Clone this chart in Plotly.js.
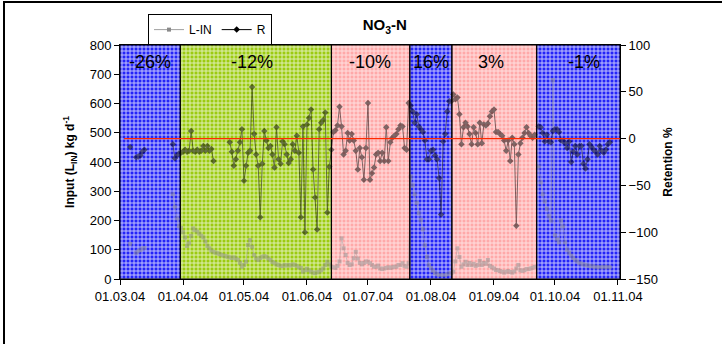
<!DOCTYPE html>
<html><head><meta charset="utf-8">
<script src="https://cdn.plot.ly/plotly-3.0.1.min.js"></script>
<style>
html,body{margin:0;padding:0;background:#fff;}
#wrap{position:relative;width:722px;height:344px;overflow:hidden;}
#chart{width:722px;height:344px;}
#frame{position:absolute;left:3px;top:1px;right:-5px;bottom:-5px;border-top:2px solid #000;border-left:2px solid #000;pointer-events:none;}
</style></head><body>
<div id="wrap"><div id="chart"></div><div id="frame"></div></div>
<script>
// daily values from 01.03.2004, one array per month (null = no measurement)
const rMar = [null,null,null,null,null,-9,null,null,-20,-19,-18,-14,-12,null,null,null,null,null,null,null,null,null,null,null,null,null,-6,-21,-18,-16,-15];
const rApr = [-14,-12,-14,-13,8,-13,-14,-12,-14,-13,-8,-13,-8,-13,-11,-24,null,null,null,null,null,null,null,-4,-14,-29,-22,-13,-4,10];
const rMay = [-45,-29,-15,-13,55,5,-17,-29,-84,-27,8,-2,-10,-8,-17,-31,12,-22,-27,-3,-6,-17,-26,-22,-6,-13,3,-15,-84,13,-100];
const rJun = [15,22,31,-33,-63,-97,10,17,20,28,-79,-30,-12,7,9,14,34,13,-17,-13,6,-2,5,-2,-13,-33,-10,-20,-44,-10];
const rJul = [38,-44,-37,-31,-17,-15,-24,-15,-24,12,-24,-4,1,3,5,10,14,13,-10,-12,38,35,29,17,26,13,10,7,-2,-22,-22];
const rAug = [-13,-12,-18,-22,-42,-81,-3,5,29,40,40,47,42,44,26,-6,12,17,13,5,-6,12,6,-6,17,-5,15,14,16,24,29];
const rSep = [31,7,7,5,3,-2,-13,-2,-24,1,-6,-93,-17,-5,1,6,12,6,3,1,4,null,13,12,6,-3,4,-3,-4,8];
const rOct = [10,10,7,-2,-2,-5,-10,-3,-25,-14,-8,-17,-8,-8,-27,-32,-22,-6,-9,-12,-14,-17,-8,-13,-15,-12,-6,-4,null,null,null];

const lMar = [null,null,null,null,null,120,null,null,90,95,99,104,106,null,null,null,null,null,null,null,null,null,null,null,null,null,290,247,207,181,175];
const lApr = [160,142,113,122,147,173,167,162,155,148,142,128,113,105,97,93,90,88,85,82,80,78,76,74,72,74,70,66,55,42];
const lMay = [48,59,116,133,110,82,70,65,72,76,78,76,70,65,58,55,50,48,45,44,48,46,48,46,50,48,45,40,38,25,30];
const lJun = [35,30,25,22,20,23,25,30,36,48,59,50,42,40,38,45,60,139,105,82,55,48,50,71,93,70,55,50,55,60];
const lJul = [59,54,48,42,42,46,36,34,36,38,40,38,40,42,42,48,48,54,45,42,54,350,320,290,260,225,202,170,115,75,48];
const lAug = [38,28,20,16,14,14,14,14,16,19,20,25,60,105,75,42,50,59,48,55,48,52,45,48,62,48,55,52,65,45,40];
const lSep = [36,31,30,27,25,22,25,27,24,22,26,36,48,30,28,30,34,34,36,38,42,null,385,330,290,265,240,215,200,680];
const lOct = [150,135,125,200,180,125,100,90,80,72,65,60,55,52,50,48,46,45,44,42,42,40,41,40,42,40,42,40,null,null,null];

// retention periods
const bandEdges = ['2004-03-01','2004-03-30 16:00','2004-06-13','2004-07-21 14:00','2004-08-11 07:00','2004-09-22','2004-11-02'];
const bandLabels = ['-26%','-12%','-10%','16%','3%','-1%'];
const bandLabelDates = ['2004-03-15 18:00','2004-05-05','2004-07-02','2004-08-01','2004-08-30 12:00','2004-10-15 12:00'];
const bandKinds = ['blue','green','pink','blue','pink','blue'];
const tickDates = ['2004-03-01','2004-04-01','2004-05-01','2004-06-01','2004-07-01','2004-08-01','2004-09-01','2004-10-01','2004-11-01'];

const R = [].concat(rMar,rApr,rMay,rJun,rJul,rAug,rSep,rOct);
const LIN = [].concat(lMar,lApr,lMay,lJun,lJul,lAug,lSep,lOct);
const t0 = Date.UTC(2004,2,1);
const dates = R.map((_,i)=> new Date(t0 + i*86400000).toISOString().slice(0,10));

const kindStyle = {
  blue:  {bg:'#2424F8', fg:'#ffffff', fgop:0.75},
  green: {bg:'#9CCB10', fg:'#ffffff', fgop:0.7},
  pink:  {bg:'#FFA9A9', fg:'#ffffff', fgop:0.65}
};
const FONT = 'Arial, "Liberation Sans", sans-serif';

const traces = [];
// base band fills (below data)
bandKinds.forEach((k,i)=>{
  const s = kindStyle[k];
  traces.push({x:[bandEdges[i],bandEdges[i+1],bandEdges[i+1],bandEdges[i],bandEdges[i]], y:[0,0,800,800,0],
    xaxis:'x', yaxis:'y', mode:'lines', line:{width:0}, fill:'toself', fillcolor:s.bg,
    fillpattern:{shape:'+', bgcolor:s.bg, fgcolor:s.fg, fgopacity:s.fgop, size:4, solidity:0.42},
    showlegend:false, hoverinfo:'skip'});
});
traces.push({name:'L-IN', x:dates, y:LIN, xaxis:'x', yaxis:'y', mode:'lines+markers',
  line:{color:'#A0A0A0', width:1}, marker:{symbol:'square', size:4, color:'#8A8A8A'}, connectgaps:false});
traces.push({name:'R', x:dates, y:R, xaxis:'x', yaxis:'y2', mode:'lines+markers',
  line:{color:'#000000', width:1}, marker:{symbol:'diamond', size:5, color:'#000000'}, connectgaps:false});
// tint over data
bandKinds.forEach((k,i)=>{
  const s = kindStyle[k];
  traces.push({x:[bandEdges[i],bandEdges[i+1],bandEdges[i+1],bandEdges[i],bandEdges[i]], y:[0,0,1,1,0],
    xaxis:'x', yaxis:'y3', mode:'lines', line:{width:0}, fill:'toself', fillcolor:s.bg, opacity:0.5,
    fillpattern:{shape:'+', bgcolor:s.bg, fgcolor:s.fg, fgopacity:s.fgop, size:4, solidity:0.42},
    showlegend:false, hoverinfo:'skip'});
});

const shapes = bandKinds.map((k,i)=>({type:'rect', xref:'x', yref:'paper', x0:bandEdges[i], x1:bandEdges[i+1], y0:0, y1:1,
  line:{color:'#000', width:1}, fillcolor:'rgba(0,0,0,0)', layer:'above'}));
shapes.push({type:'line', xref:'x', yref:'y2', x0:'2004-03-03', x1:bandEdges[bandEdges.length-1], y0:0, y1:0,
  line:{color:'#FF2A00', width:1.3}, layer:'above'});

const annotations = bandLabels.map((t,i)=>({text:t, x:bandLabelDates[i], xref:'x', y:0.927, yref:'paper',
  showarrow:false, xanchor:'center', yanchor:'middle', font:{size:18, color:'#000', family:FONT}}));

const axisCommon = {showline:true, linecolor:'#000', linewidth:1, ticks:'outside', ticklen:5, tickcolor:'#000',
  showgrid:false, zeroline:false, tickfont:{size:13, color:'#000', family:FONT}};

const layout = {
  width:722, height:344, autosize:false,
  margin:{l:120, r:102, t:45, b:65},
  paper_bgcolor:'#fff', plot_bgcolor:'#fff',
  font:{family:FONT, color:'#000'},
  title:{text:'<b>NO<sub>3</sub>-N</b>', x:0.533, xref:'container', xanchor:'center', y:0.927, yref:'container', yanchor:'middle',
    font:{size:15, family:FONT, color:'#000'}},
  xaxis:Object.assign({}, axisCommon, {type:'date', range:[bandEdges[0], bandEdges[bandEdges.length-1]],
    tickvals:tickDates, tickformat:'%d.%m.%y', mirror:true}),
  yaxis:Object.assign({}, axisCommon, {range:[0,800], dtick:100, tick0:0,
    title:{text:'<b>Input (L<sub>IN</sub>) kg d<sup>-1</sup></b>', font:{size:12, family:FONT}, standoff:12}}),
  yaxis2:Object.assign({}, axisCommon, {overlaying:'y', side:'right', range:[-150,100], dtick:50, tick0:0,
    title:{text:'<b>Retention %</b>', font:{size:12, family:FONT}, standoff:6}}),
  yaxis3:{overlaying:'y', range:[0,1], visible:false, fixedrange:true},
  showlegend:true,
  legend:{orientation:'h', x:0.056, xanchor:'left', y:1.132, yanchor:'top', bgcolor:'#fff',
    bordercolor:'#000', borderwidth:1, font:{size:12, family:FONT, color:'#000'}, traceorder:'normal'},
  shapes:shapes, annotations:annotations
};

Plotly.newPlot('chart', traces, layout, {staticPlot:true, displayModeBar:false});
</script>
</body></html>
